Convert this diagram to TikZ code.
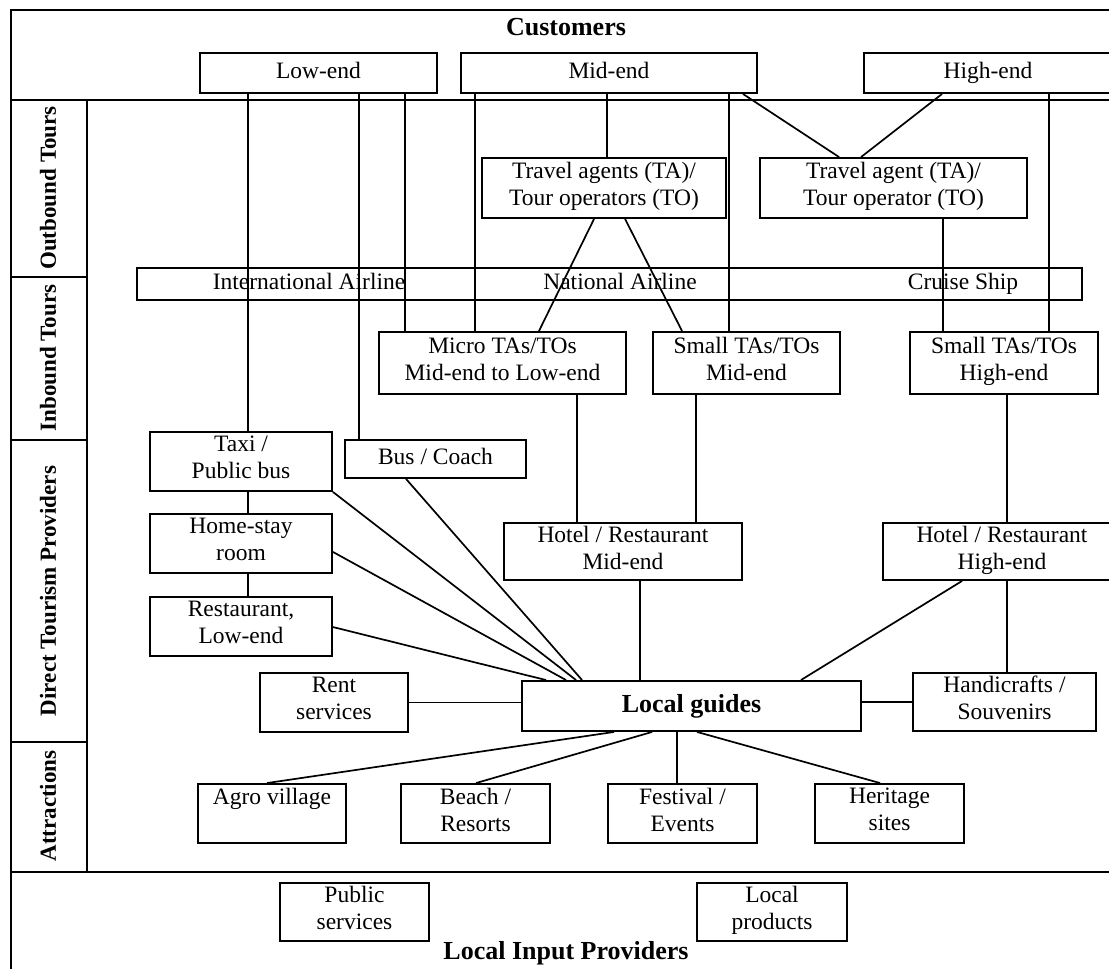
\documentclass[tikz,border=0pt]{standalone}
\usepackage{fontspec}
\setmainfont{Liberation Serif}
\usetikzlibrary{calc}

\begin{document}
\begin{tikzpicture}[x=1pt,y=-1pt,
  box/.style={draw, line width=1.9pt, inner sep=0pt, align=center,
    font=\fontsize{23.5}{27}\selectfont,
    execute at begin node=\strut, execute at end node=\strut},
  wh/.style 2 args={minimum width=#1pt, minimum height=#2pt},
  link/.style={line width=1.7pt},
  frame/.style={line width=2.5pt},
  title/.style={font=\fontsize{26}{30}\selectfont\bfseries, inner sep=0pt},
  side/.style={font=\fontsize{23}{27}\selectfont\bfseries, rotate=90, inner sep=0pt},
  bartext/.style={font=\fontsize{23.5}{27}\selectfont, inner sep=0pt,
    execute at begin node=\strut}]

\useasboundingbox (0,0) rectangle (1109,969);
\clip (0,0) rectangle (1109,969);

% ---- outer frame and bands ----
\draw[frame] (11,10) rectangle (1120,980);
\draw[frame] (11,100) -- (1120,100);
\draw[frame] (11,872) -- (1120,872);
\draw[frame] (87,100) -- (87,872);
\draw[frame] (11,277) -- (87,277);
\draw[frame] (11,440) -- (87,440);
\draw[frame] (11,742) -- (87,742);

% ---- band titles ----
\node[title] (tcust) at (566,27) {Customers};
\node[title] (tinput) at (566,953) {Local Input Providers};
\node[side] (sout) at (48,188) {Outbound Tours};
\node[side] (sin) at (48,358) {Inbound Tours};
\node[side] (sdir) at (48,591) {Direct Tourism Providers};
\node[side] (satt) at (48,806) {Attractions};

% ---- customer segments ----
\node[box, wh={237}{40}] (low) at (318.5,73) {Low-end};
\node[box, wh={296}{40}] (mid) at (609,73) {Mid-end};
\node[box, wh={248}{40}] (high) at (988,73) {High-end};

% ---- outbound tours ----
\node[box, wh={244}{60}] (taL) at (604,188) {Travel agents (TA)/\\Tour operators (TO)};
\node[box, wh={267}{60}] (taR) at (893.5,188) {Travel agent (TA)/\\Tour operator (TO)};

% ---- carriers ----
\node[box, wh={945}{32}] (air) at (609.5,284) {};
\node[bartext] (ia) at (309,284) {International Airline};
\node[bartext] (na) at (620,284) {National Airline};
\node[bartext] (cs) at (963,284) {Cruise Ship};

% ---- inbound tours ----
\node[box, wh={247}{62}] (micro) at (502.5,363) {Micro TAs/TOs\\Mid-end to Low-end};
\node[box, wh={187}{62}] (smallM) at (746.5,363) {Small TAs/TOs\\Mid-end};
\node[box, wh={188}{62}] (smallH) at (1004,363) {Small TAs/TOs\\High-end};

% ---- direct tourism providers ----
\node[box, wh={182}{59}] (taxi) at (241,461.5) {Taxi /\\Public bus};
\node[box, wh={181}{38}] (bus) at (435.5,459) {Bus / Coach};
\node[box, wh={182}{59}] (home) at (241,543.5) {Home-stay\\room};
\node[box, wh={182}{59}] (rest) at (241,626.5) {Restaurant,\\Low-end};
\node[box, wh={238}{57}] (hotM) at (623,551.5) {Hotel / Restaurant\\Mid-end};
\node[box, wh={238}{57}] (hotH) at (1002,551.5) {Hotel / Restaurant\\High-end};
\node[box, wh={148}{59}] (rent) at (334,702.5) {Rent\\services};
\node[box, wh={339}{50}, font=\fontsize{26}{30}\selectfont\bfseries] (guides) at (691.5,706) {Local guides};
\node[box, wh={183}{58}] (hand) at (1004.5,702) {Handicrafts /\\Souvenirs};

% ---- attractions ----
\node[box, wh={148}{59}] (agro) at (272,813.5) {Agro village\\\mbox{}};
\node[box, wh={149}{59}] (beach) at (475.5,813.5) {Beach /\\Resorts};
\node[box, wh={149}{59}] (fest) at (682.5,813.5) {Festival /\\Events};
\node[box, wh={149}{59}] (herit) at (889.5,813.5) {Heritage\\sites};

% ---- local input providers ----
\node[box, wh={149}{58}] (pub) at (354.5,912) {Public\\services};
\node[box, wh={150}{58}] (lprod) at (772,912) {Local\\products};

% ---- attachment points ----
\coordinate (l1) at ($(low.south west)+(49,0)$);
\coordinate (l2) at ($(low.south west)+(160,0)$);
\coordinate (l3) at ($(low.south west)+(206,0)$);
\coordinate (m1) at ($(mid.south west)+(15,0)$);
\coordinate (m2) at ($(mid.south west)+(147,0)$);
\coordinate (m3) at ($(mid.south west)+(269,0)$);
\coordinate (m4) at ($(mid.south east)+(-15,0)$);
\coordinate (h1) at ($(high.south west)+(79,0)$);
\coordinate (h2) at ($(high.south west)+(186,0)$);
\coordinate (r1) at ($(taR.north west)+(80,0)$);
\coordinate (r2) at ($(taR.north west)+(102,0)$);
\coordinate (r3) at ($(taR.south west)+(184,0)$);
\coordinate (t1) at ($(taL.south west)+(113,0)$);
\coordinate (t2) at ($(taL.south west)+(144,0)$);
\coordinate (mc) at ($(micro.north east)+(-88,0)$);
\coordinate (sm) at ($(smallM.north west)+(30,0)$);
\coordinate (mb) at ($(micro.south west)+(199,0)$);
\coordinate (sb) at ($(smallM.south west)+(44,0)$);
\coordinate (hb) at ($(smallH.south west)+(98,0)$);
\coordinate (tx) at ($(taxi.south west)+(99,0)$);
\coordinate (hs) at ($(home.south west)+(99,0)$);
\coordinate (bs) at ($(bus.south west)+(62,0)$);
\coordinate (he) at ($(home.south east)+(0,-22)$);
\coordinate (re) at ($(rest.north east)+(0,31)$);
\coordinate (g1) at ($(guides.north west)+(25,0)$);
\coordinate (g2) at ($(guides.north west)+(45,0)$);
\coordinate (g3) at ($(guides.north west)+(55,0)$);
\coordinate (g4) at ($(guides.north west)+(61,0)$);
\coordinate (g5) at ($(guides.north east)+(-61,0)$);
\coordinate (hm) at ($(hotM.south west)+(137,0)$);
\coordinate (hh1) at ($(hotH.south west)+(80,0)$);
\coordinate (hh2) at ($(hotH.south west)+(125,0)$);
\coordinate (b1) at ($(guides.south west)+(93,0)$);
\coordinate (b2) at ($(guides.south west)+(131,0)$);
\coordinate (b3) at ($(guides.south west)+(156,0)$);
\coordinate (b4) at ($(guides.south west)+(176,0)$);
\coordinate (ag) at ($(agro.north west)+(70,0)$);
\coordinate (be) at ($(beach.north west)+(76,0)$);
\coordinate (hr) at ($(herit.north west)+(66,0)$);

% ---- connectors ----
\draw[link] (l1) -- (l1 |- taxi.north);
\draw[link] (l2) -- (l2 |- bus.north);
\draw[link] (l3) -- (l3 |- micro.north);
\draw[link] (m1) -- (m1 |- micro.north);
\draw[link] (m2) -- (m2 |- taL.north);
\draw[link] (m3) -- (m3 |- smallM.north);
\draw[link] (m4) -- (r1);
\draw[link] (h1) -- (r2);
\draw[link] (h2) -- (h2 |- smallH.north);
\draw[link] (t1) -- (mc);
\draw[link] (t2) -- (sm);
\draw[link] (r3) -- (r3 |- smallH.north);
\draw[link] (mb) -- (mb |- hotM.north);
\draw[link] (sb) -- (sb |- hotM.north);
\draw[link] (hb) -- (hb |- hotH.north);
\draw[link] (tx) -- (tx |- home.north);
\draw[link] (hs) -- (hs |- rest.north);
\draw[link] (taxi.south east) -- (g3);
\draw[link] (bs) -- (g4);
\draw[link] (he) -- (g2);
\draw[link] (re) -- (g1);
\draw[link] (hm) -- (hm |- guides.north);
\draw[link] (hh1) -- (g5);
\draw[link] (hh2) -- (hh2 |- hand.north);
\draw[link] (rent.east) -- (rent.east -| guides.west);
\draw[link] (hand.west -| guides.east) -- (hand.west);
\draw[link] (b1) -- (ag);
\draw[link] (b2) -- (be);
\draw[link] (b3) -- (b3 |- fest.north);
\draw[link] (b4) -- (hr);

\end{tikzpicture}
\end{document}
